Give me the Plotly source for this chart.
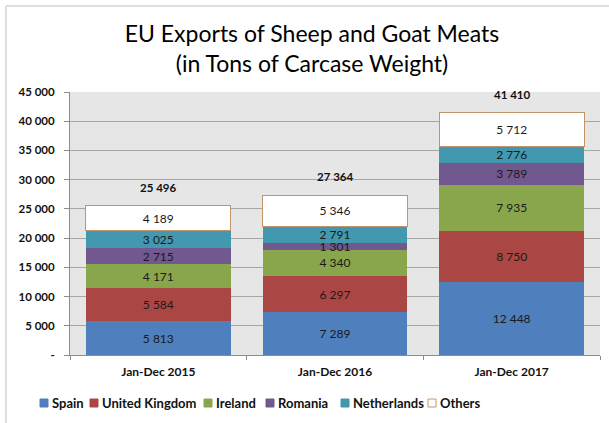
import plotly.graph_objects as go

categories = ["Jan-Dec 2015", "Jan-Dec 2016", "Jan-Dec 2017"]
spain = [5813, 7289, 12448]
uk = [5584, 6297, 8750]
ireland = [4171, 4340, 7935]
romania = [2715, 1301, 3789]
netherlands = [3025, 2791, 2776]
others = [4189, 5346, 5712]
totals = [25496, 27364, 41410]
tick_vals = [0, 5000, 10000, 15000, 20000, 25000, 30000, 35000, 40000, 45000]
tick_text = ["-", "5 000", "10 000", "15 000", "20 000", "25 000", "30 000", "35 000", "40 000", "45 000"]


def fmt(v):
    return f"{v:,}".replace(",", " ")


series = [
    ("Spain", spain, "#4f7fbd", None),
    ("United Kingdom", uk, "#aa4644", None),
    ("Ireland", ireland, "#8aa64d", None),
    ("Romania", romania, "#71588f", None),
    ("Netherlands", netherlands, "#4198af", None),
    ("Others", others, "#ffffff", "#c0956c"),
]

FONT = "Lato, Open Sans, sans-serif"
W, H = 609, 423
L, R, T, B = 70, 9, 92, 68
PW, PH = W - L - R, H - T - B


def px(x):
    return (x - L) / PW


def py(y):
    return (H - B - y) / PH


fig = go.Figure()
for name, vals, color, border in series:
    fig.add_trace(go.Bar(
        name=name, x=categories, y=vals,
        text=[fmt(v) for v in vals], textposition="inside", insidetextanchor="middle",
        textfont=dict(family=FONT, size=12, color="#1a1a1a"),
        marker=dict(color=color, line=dict(color=border if border else color, width=1 if border else 0)),
        constraintext="none", showlegend=False, hoverinfo="skip",
    ))

for c, t in zip(categories, totals):
    fig.add_annotation(x=c, y=t, text=f"<b>{fmt(t)}</b>", showarrow=False,
                       yanchor="bottom", yshift=10,
                       font=dict(family=FONT, size=11.5, color="#111"))

# legend (manual, compact like the reference)
legend_x = [40, 90, 204, 266, 341, 428]
legend_y = 403
for (name, vals, color, border), lx in zip(series, legend_x):
    fig.add_shape(type="rect", xref="paper", yref="paper",
                  x0=px(lx), x1=px(lx + 8), y0=py(legend_y + 4), y1=py(legend_y - 4),
                  fillcolor=color, line=dict(color=border if border else color, width=1))
    fig.add_annotation(xref="paper", yref="paper", x=px(lx + 10), y=py(legend_y),
                       xanchor="left", yanchor="middle", showarrow=False,
                       text=f"<b>{name}</b>", font=dict(family=FONT, size=13, color="#111"))

fig.update_layout(
    width=W, height=H,
    barmode="stack", bargap=0.18,
    uniformtext=dict(minsize=9, mode="show"),
    margin=dict(l=L, r=R, t=T, b=B, autoexpand=False),
    paper_bgcolor="white", plot_bgcolor="#e6e6e6",
    title=dict(text="EU Exports of Sheep and Goat Meats<br>(in Tons of Carcase Weight)",
               x=312 / W, xanchor="center", y=(H - 42) / H, yanchor="top",
               font=dict(family=FONT, size=23, color="#000")),
    font=dict(family=FONT),
    showlegend=False,
)
fig.update_yaxes(range=[0, 45000], tickvals=tick_vals, ticktext=tick_text,
                 tickfont=dict(family=FONT, size=11.5, color="#111", weight="bold"),
                 gridcolor="#a6a6a6", gridwidth=1, showline=True, linecolor="#8c8c8c",
                 ticks="outside", ticklen=5, tickcolor="#8c8c8c", zeroline=False,
                 ticklabelstandoff=7, automargin=False)
fig.update_xaxes(tickfont=dict(family=FONT, size=12, color="#111", weight="bold"),
                 showline=True, linecolor="#8c8c8c", ticks="outside", tickson="boundaries",
                 ticklen=4, tickcolor="#8c8c8c", automargin=False, ticklabelstandoff=6)

# outer frame (top and left edges visible)
fig.add_shape(type="line", xref="paper", yref="paper",
              x0=px(6), x1=px(6), y0=py(H), y1=py(6), line=dict(color="#d4d4d4", width=1.5))
fig.add_shape(type="line", xref="paper", yref="paper",
              x0=px(6), x1=px(W), y0=py(6), y1=py(6), line=dict(color="#d4d4d4", width=1.5))

fig.write_html("out.html", config={"displayModeBar": False},
               post_script="document.body.style.margin='0px';")
